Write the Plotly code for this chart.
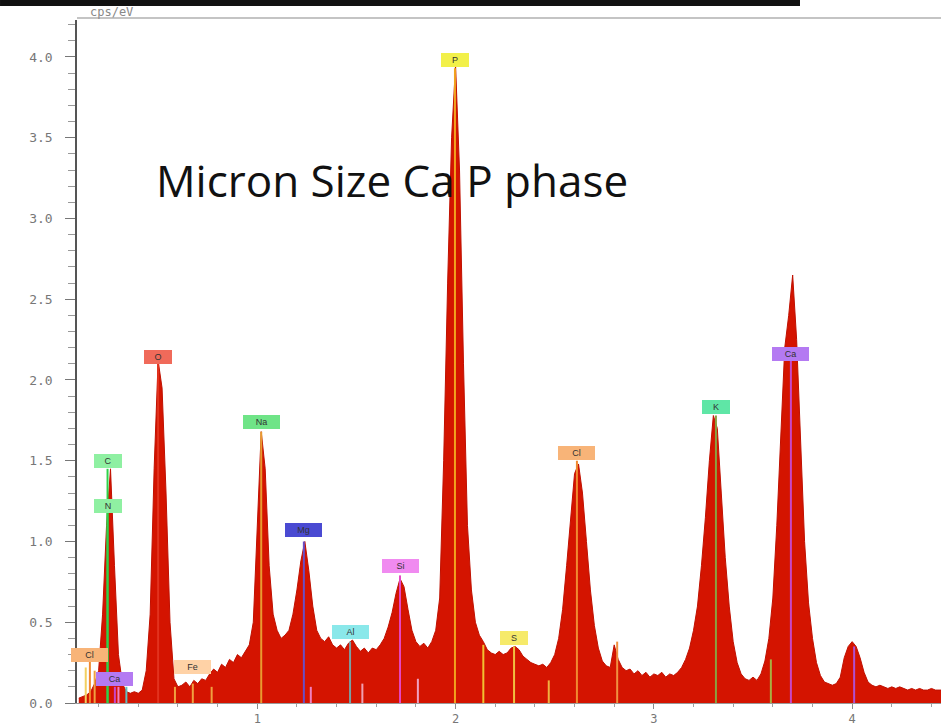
import numpy as np
import plotly.graph_objects as go

# ---------------- data ----------------
e_start = 0.10
e_step = 0.02
counts = [
    0.03, 0.04, 0.05, 0.07, 0.12, 0.20, 0.55, 1.10, 1.45, 0.85,   # 0.10-0.28
    0.30, 0.12, 0.07, 0.06, 0.07, 0.06, 0.08, 0.20, 0.55, 1.45,   # 0.30-0.48
    2.12, 1.95, 1.30, 0.50, 0.15, 0.10, 0.11, 0.13, 0.10, 0.14,   # 0.50-0.68
    0.12, 0.15, 0.14, 0.18, 0.21, 0.19, 0.24, 0.22, 0.27, 0.25,   # 0.70-0.88
    0.30, 0.28, 0.32, 0.36, 0.50, 1.10, 1.68, 1.45, 0.85, 0.55,   # 0.90-1.08
    0.45, 0.40, 0.42, 0.45, 0.55, 0.70, 0.88, 1.00, 0.82, 0.60,   # 1.10-1.28
    0.45, 0.40, 0.38, 0.41, 0.36, 0.34, 0.36, 0.33, 0.37, 0.39,   # 1.30-1.48
    0.35, 0.32, 0.34, 0.31, 0.34, 0.33, 0.36, 0.40, 0.47, 0.56,   # 1.50-1.68
    0.68, 0.77, 0.72, 0.58, 0.45, 0.38, 0.35, 0.37, 0.34, 0.38,   # 1.70-1.88
    0.45, 0.65, 1.50, 2.60, 3.50, 3.95, 3.30, 2.10, 1.10, 0.70,   # 1.90-2.08
    0.50, 0.42, 0.38, 0.33, 0.31, 0.30, 0.32, 0.30, 0.31, 0.34,   # 2.10-2.28
    0.35, 0.33, 0.29, 0.27, 0.25, 0.24, 0.23, 0.24, 0.22, 0.25,   # 2.30-2.48
    0.30, 0.40, 0.58, 0.85, 1.15, 1.42, 1.48, 1.30, 1.00, 0.70,   # 2.50-2.68
    0.48, 0.34, 0.26, 0.23, 0.22, 0.36, 0.27, 0.22, 0.20, 0.21,   # 2.70-2.88
    0.18, 0.20, 0.17, 0.19, 0.16, 0.18, 0.17, 0.19, 0.16, 0.18,   # 2.90-3.08
    0.17, 0.19, 0.22, 0.27, 0.34, 0.45, 0.60, 0.85, 1.15, 1.50,   # 3.10-3.28
    1.78, 1.70, 1.30, 0.90, 0.60, 0.38, 0.25, 0.18, 0.15, 0.14,   # 3.30-3.48
    0.16, 0.14, 0.18, 0.26, 0.40, 0.65, 1.10, 1.70, 2.20, 2.40,   # 3.50-3.68
    2.65, 2.25, 1.60, 1.00, 0.62, 0.40, 0.25, 0.17, 0.13, 0.12,   # 3.70-3.88
    0.11, 0.12, 0.16, 0.28, 0.35, 0.38, 0.35, 0.28, 0.19, 0.13,   # 3.90-4.08
    0.11, 0.10, 0.11, 0.10, 0.09, 0.10, 0.09, 0.10, 0.09, 0.08,   # 4.10-4.28
    0.09, 0.08, 0.09, 0.08, 0.08, 0.09, 0.08, 0.08, 0.08,         # 4.30-4.46
]
energies = np.round(e_start + e_step * np.arange(len(counts)), 2)

# labelled element markers
el_names   = ["C", "N", "O", "Fe", "Na", "Mg", "Al", "Si", "P", "S", "Cl", "K", "Ca", "Ca", "Cl"]
el_energy  = [0.245, 0.245, 0.50, 0.675, 1.02, 1.235, 1.468, 1.72, 1.997, 2.295, 2.612, 3.313, 3.691, 0.282, 0.156]
el_line_h  = [1.45, 1.20, 2.10, 0.12, 1.68, 1.00, 0.38, 0.79, 3.93, 0.35, 1.50, 1.78, 2.14, 0.10, 0.28]
el_label_h = [1.50, 1.22, 2.14, 0.22, 1.74, 1.07, 0.44, 0.85, 3.98, 0.40, 1.55, 1.83, 2.16, 0.15, 0.30]

# unlabelled (secondary) marker lines
sec_energy = [0.135, 0.18, 0.30, 0.34, 0.585, 0.77, 1.27, 1.53, 1.81, 2.14, 2.47, 2.815, 3.59, 4.01]
sec_h      = [0.22, 0.20, 0.10, 0.10, 0.10, 0.10, 0.10, 0.12, 0.15, 0.36, 0.14, 0.38, 0.27, 0.35]

y_ticks = [0.0, 0.5, 1.0, 1.5, 2.0, 2.5, 3.0, 3.5, 4.0]
x_ticks = [1, 2, 3, 4]

# ---------------- styles ----------------
label_bg = {"C": "#8ff0a2", "N": "#8ff0a2", "O": "#f06a5a", "Fe": "#ffd2a6", "Na": "#6fe487",
            "Mg": "#4a4ad2", "Al": "#8ae8ea", "Si": "#f08af0", "P": "#f2f04a", "S": "#f6ea6a",
            "Cl": "#f8b478", "K": "#5fe6a6", "Ca": "#b47af2"}
line_col = {"C": "#2ed24a", "N": "#2ed24a", "O": "#e2321e", "Fe": "#f0a040", "Na": "#e89a30",
            "Mg": "#6a4ec4", "Al": "#7aa0a4", "Si": "#e646c4", "P": "#f2a21e", "S": "#f0c040",
            "Cl": "#f08a30", "K": "#8aa040", "Ca": "#c846c8"}
sec_col = ["#f2d060", "#f0a040", "#f080c0", "#60c0c0", "#f0a040", "#f0a040", "#f080c0",
           "#f0a0b0", "#f0a0c0", "#f2c030", "#f0b040", "#f09040", "#a8b040", "#b050d0"]

x_lo, x_hi = 0.091, 4.448
y_lo, y_hi = 0.0, 4.229

fig = go.Figure()

fig.add_trace(go.Scatter(
    x=energies, y=counts, mode="lines", fill="tozeroy",
    line=dict(color="#c01000", width=1), fillcolor="#d41400",
    hoverinfo="skip", showlegend=False,
))

shapes = []
for e, h, c in zip(sec_energy, sec_h, sec_col):
    shapes.append(dict(type="line", xref="x", yref="y", x0=e, x1=e, y0=0, y1=h,
                       line=dict(color=c, width=2)))
for n, e, h in zip(el_names, el_energy, el_line_h):
    shapes.append(dict(type="line", xref="x", yref="y", x0=e, x1=e, y0=0, y1=h,
                       line=dict(color=line_col[n], width=2)))
# top border line
shapes.append(dict(type="line", xref="paper", yref="paper", x0=0, x1=1, y0=1.003, y1=1.003,
                   line=dict(color="#b0b0b0", width=1.5)))
# black band at the very top of the screenshot
shapes.append(dict(type="rect", xref="paper", yref="paper", x0=-0.0891, x1=0.8368,
                   y0=1.0205, y1=1.03, line=dict(width=0), fillcolor="#111111"))

annotations = []
for n, e, h in zip(el_names, el_energy, el_label_h):
    annotations.append(dict(x=e, y=h, xref="x", yref="y", text=n, showarrow=False,
                            font=dict(size=9, color="#333333", family="Liberation Sans"),
                            bgcolor=label_bg[n], bordercolor=label_bg[n], borderpad=1,
                            width=24 if len(n) == 1 else 33))
annotations.append(dict(x=0.0895, y=0.766, xref="paper", yref="paper", xanchor="left",
                        yanchor="middle", text="Micron Size Ca P phase", showarrow=False,
                        font=dict(size=44, color="#111111", family="Open Sans")))
annotations.append(dict(x=0.013, y=0.998, xref="paper", yref="paper", xanchor="left",
                        yanchor="bottom", text="cps/eV", showarrow=False,
                        font=dict(size=12, color="#888888", family="DejaVu Sans Mono")))

fig.update_layout(
    width=941, height=725,
    margin=dict(l=77, r=0, t=20, b=22),
    paper_bgcolor="white", plot_bgcolor="white",
    shapes=shapes, annotations=annotations,
    xaxis=dict(range=[x_lo, x_hi], showgrid=False, zeroline=False,
               showline=True, linecolor="#9a9a9a", linewidth=1,
               tickmode="array", tickvals=x_ticks, ticktext=[str(t) for t in x_ticks],
               ticks="outside", ticklen=5, tickcolor="#8a8a8a",
               minor=dict(dtick=0.2, tick0=0, ticks="outside", ticklen=3, tickcolor="#a0a0a0"),
               tickfont=dict(size=12, color="#777777", family="DejaVu Sans Mono")),
    yaxis=dict(range=[y_lo, y_hi], showgrid=False, zeroline=False,
               showline=True, linecolor="#555555", linewidth=1.5,
               tickmode="array", tickvals=y_ticks, ticktext=[f"{t:.1f}" for t in y_ticks],
               ticks="outside", ticklen=10, tickcolor="#777777", ticklabelstandoff=10,
               minor=dict(dtick=0.1, tick0=0, ticks="outside", ticklen=7, tickcolor="#999999"),
               tickfont=dict(size=13, color="#777777", family="DejaVu Sans Mono")),
)

fig.write_html("out.html")
